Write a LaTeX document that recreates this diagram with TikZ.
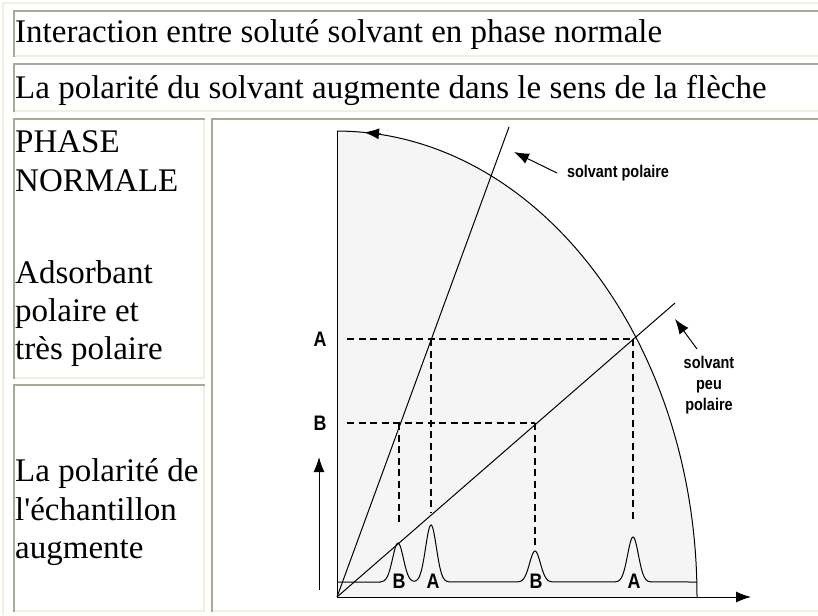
\documentclass[tikz,border=0pt]{standalone}
\usepackage{fontspec}
\setmainfont{Liberation Serif}[Ligatures=TeXOff]
\newfontfamily\lblfont[FakeStretch=0.85]{Liberation Sans}
\usetikzlibrary{arrows.meta}
\definecolor{bdark}{HTML}{ACA899}
\definecolor{blight}{HTML}{F1EFE2}
\definecolor{areafill}{HTML}{F5F5F5}
\newcommand\cellbox[4]{%
  \fill[bdark] (#1,#2) rectangle (#3,#2+2);
  \fill[bdark] (#1,#2) rectangle (#1+2,#4);
  \fill[blight] (#1+2,#4-2) rectangle (#3,#4);
  \fill[blight] (#3-2,#2+2) rectangle (#3,#4);
}
\begin{document}
\begin{tikzpicture}[x=1pt,y=-1pt,
  serif/.style={anchor=base west, inner sep=0pt, font=\fontsize{33}{38}\selectfont},
  lbl/.style={inner sep=0pt, font=\lblfont\bfseries\fontsize{17}{21}\selectfont},
  axlbl/.style={inner sep=0pt, font=\lblfont\bfseries\fontsize{21}{24}\selectfont},
  dashln/.style={dash pattern=on 7pt off 4.5pt, line width=1.2pt},
  ln/.style={line width=1pt},
  arr/.style={-{Latex[length=15pt,width=11pt]}, line width=1pt}
]
\useasboundingbox (0,0) rectangle (818,615);
\fill[white] (0,0) rectangle (818,615);
% outer table border
\fill[blight] (2,2) rectangle (818,4);
\fill[blight] (2,2) rectangle (4,615);
% cells
\cellbox{13}{10}{822}{57}
\cellbox{13}{63}{822}{112}
\cellbox{13}{118}{205}{379}
\cellbox{13}{384}{205}{612}
\cellbox{211}{118}{822}{612}
% texts
\node[serif] (t1) at (15,43) {Interaction entre soluté solvant en phase normale};
\node[serif] (t2) at (15,99) {La polarité du solvant augmente dans le sens de la flèche};
\node[serif] (l1) at (15,152) {PHASE};
\node[serif] (l2) at (15,191) {NORMALE};
\node[serif] (l3) at (15,283) {Adsorbant};
\node[serif] (l4) at (15,321) {polaire et};
\node[serif] (l5) at (15,359) {très polaire};
\node[serif] (l6) at (15,481) {La polarité de};
\node[serif] (l7) at (15,520) {l'échantillon};
\node[serif] (l8) at (15,558) {augmente};
% chart
\coordinate (O) at (337,597);
\fill[areafill] (O) -- (697,597) arc[start angle=0, end angle=-90, x radius=360, y radius=466] -- cycle;
\draw[ln] (O) -- (337,131);
\draw[ln] (697,597) arc[start angle=0, end angle=-85.2, x radius=360, y radius=466];
\draw[arr] (381,134) -- (364,132.4);
\draw[ln] (366,132.6) arc[start angle=-85.4, end angle=-90, x radius=360, y radius=466];
\draw[arr] (O) -- (751,597);
\coordinate (P1) at (509,127);
\coordinate (P2) at (675,303);
\draw[ln] (O) -- (P1);
\draw[ln] (O) -- (P2);
% dashed guides
\draw[dashln] (347,339) -- (633,339);
\draw[dashln] (347,423) -- (535,423);
\draw[dashln] (431,339) -- (431,513);
\draw[dashln] (633,339) -- (633,523);
\draw[dashln] (399,423) -- (399,525);
\draw[dashln] (535,423) -- (535,547);
% chromatogram baseline with peaks
\draw[ln] (337,582) -- (380,582)
  -- plot[domain=380:450, samples=90, smooth] (\x,{582-39*exp(-((\x-398)/7.6)^2)-57*exp(-((\x-431)/7.6)^2)})
  -- plot[domain=515:555, samples=45, smooth] (\x,{582-31*exp(-((\x-535)/7.6)^2)})
  -- plot[domain=613:653, samples=45, smooth] (\x,{582-45*exp(-((\x-633)/7.6)^2)})
  -- (697,582);
\node[axlbl] (pb1) at (399,581) {B};
\node[axlbl] (pa1) at (433,581) {A};
\node[axlbl] (pb2) at (536,581) {B};
\node[axlbl] (pa2) at (634,581) {A};
\node[axlbl] (ya) at (320,339) {A};
\node[axlbl] (yb) at (320,423) {B};
\coordinate (vb) at (319,590);
\coordinate (vt) at (319,457);
\draw[arr] (vb) -- (vt);
% solvent labels
\node[lbl] (sp) at (618,173) {solvant polaire};
\coordinate (spt) at (557,173);
\coordinate (sph) at (514,152);
\draw[arr] (spt) -- (sph);
\node[lbl, align=center] (spp) at (709,385) {solvant\\peu\\polaire};
\coordinate (sppt) at (697,349);
\coordinate (spph) at (675,319);
\draw[arr] (sppt) -- (spph);
\end{tikzpicture}
\end{document}
